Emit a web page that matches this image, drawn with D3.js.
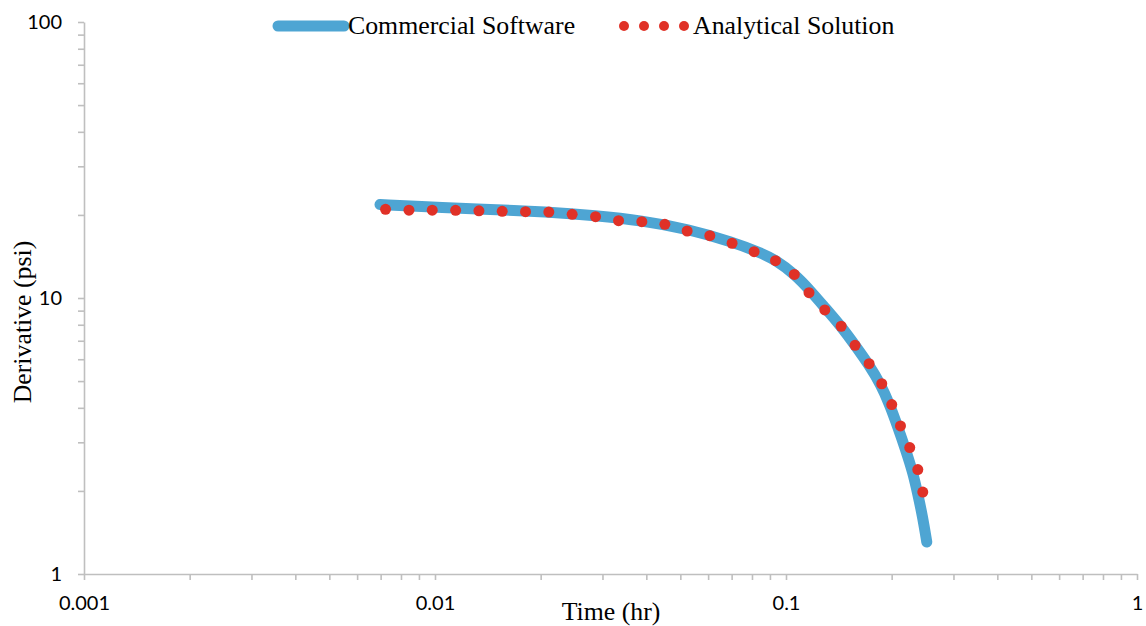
<!DOCTYPE html>
<html>
<head>
<meta charset="utf-8">
<script src="https://cdn.jsdelivr.net/npm/d3@7"></script>
<style>
  body { margin: 0; background: #fff; }
  svg { display: block; }
  .axis path, .axis line { stroke: #bfbfbf; stroke-width: 1.6px; }
  .axis text { font-family: Lato, "Open Sans", sans-serif; font-size: 20px; fill: #000; }
  .title { font-family: "Liberation Serif", "Times New Roman", serif; font-size: 25.8px; fill: #000; }
</style>
</head>
<body>
<svg id="chart" width="1146" height="626"></svg>
<script>
// commercial software curve (time in hr, derivative in psi)
const softTime = [0.00697, 0.00986, 0.01343, 0.0211, 0.02854, 0.03884, 0.05252, 0.07053,
  0.08424, 0.09352, 0.106, 0.1169, 0.129, 0.1433, 0.157, 0.1721, 0.1862, 0.1975, 0.2082,
  0.2194, 0.2297, 0.2374, 0.2453, 0.2518];
const softDeriv = [21.82, 21.36, 21.01, 20.49, 19.9, 19.09, 17.78, 15.95,
  14.62, 13.73, 12.17, 10.69, 9.24, 7.92, 6.76, 5.74, 4.86, 4.10, 3.41,
  2.81, 2.34, 1.95, 1.6, 1.306];

// analytical solution points
const anaTime = [0.00723, 0.00843, 0.00982, 0.01145, 0.01334, 0.01554, 0.01811, 0.0211,
  0.02459, 0.02867, 0.03334, 0.03884, 0.04517, 0.05228, 0.06067, 0.07021, 0.08114,
  0.09335, 0.1056, 0.1163, 0.129, 0.1436, 0.1573, 0.1725, 0.1874, 0.2001, 0.2119,
  0.2252, 0.2374, 0.2453];
const anaDeriv = [20.96, 20.8, 20.8, 20.78, 20.7, 20.6, 20.54, 20.49,
  20.1, 19.7, 19.06, 18.9, 18.49, 17.49, 16.82, 15.79, 14.72,
  13.65, 12.17, 10.45, 9.05, 7.9, 6.74, 5.78, 4.89, 4.11, 3.44,
  2.87, 2.39, 1.98];

const xDomain = [0.001, 1];
const yDomain = [1, 100];
const seriesNames = ["Commercial Software", "Analytical Solution"];

const blue = "#4ea5d3";
const red = "#e03127";

const svg = d3.select("#chart");
const padL = 84, padR = 1137, padT = 22, padB = 574;

const x = d3.scaleLog().domain(xDomain).range([padL, padR]);
const y = d3.scaleLog().domain(yDomain).range([padB, padT]);

// every 1..9 multiple for ticks, only powers of ten labelled
const minorTicks = (dom) => {
  const out = [];
  for (let p = Math.log10(dom[0]); p < Math.log10(dom[1]); p++) {
    for (let m = 1; m < 10; m++) out.push(m * Math.pow(10, p));
  }
  out.push(dom[1]);
  return out;
};
const isPow = d => Math.abs(Math.log10(d) - Math.round(Math.log10(d))) < 1e-9;
const fmt = d => isPow(d) ? String(+d.toPrecision(1)) : "";

svg.append("g")
  .attr("class", "axis")
  .attr("transform", `translate(0,${padB})`)
  .call(d3.axisBottom(x).tickValues(minorTicks(xDomain)).tickFormat(fmt)
    .tickSizeInner(6).tickSizeOuter(0).tickPadding(16));

svg.append("g")
  .attr("class", "axis")
  .attr("transform", `translate(${padL},0)`)
  .call(d3.axisLeft(y).tickValues(minorTicks(yDomain)).tickFormat(fmt)
    .tickSizeInner(6).tickSizeOuter(0).tickPadding(16));

// curve
const line = d3.line()
  .x(i => x(softTime[i]))
  .y(i => y(softDeriv[i]))
  .curve(d3.curveBasis);

svg.append("path")
  .attr("d", line(d3.range(softTime.length)))
  .attr("fill", "none")
  .attr("stroke", blue)
  .attr("stroke-width", 11)
  .attr("stroke-linecap", "round")
  .attr("stroke-linejoin", "round");

svg.append("g").selectAll("circle")
  .data(d3.range(anaTime.length))
  .join("circle")
  .attr("cx", i => x(anaTime[i]))
  .attr("cy", i => y(anaDeriv[i]))
  .attr("r", 5.5)
  .attr("fill", red);

// legend
const lg = svg.append("g");
lg.append("line")
  .attr("x1", 278).attr("x2", 344).attr("y1", 26).attr("y2", 26)
  .attr("stroke", blue).attr("stroke-width", 11).attr("stroke-linecap", "round");
lg.append("text").attr("class", "title").attr("x", 348).attr("y", 34).text(seriesNames[0]);
lg.selectAll("circle").data([624, 644, 664, 684]).join("circle")
  .attr("cx", d => d).attr("cy", 26).attr("r", 5).attr("fill", red);
lg.append("text").attr("class", "title").attr("x", 693).attr("y", 34).text(seriesNames[1]);

// axis titles
svg.append("text").attr("class", "title")
  .attr("x", 611).attr("y", 620).attr("text-anchor", "middle")
  .text("Time (hr)");
svg.append("text").attr("class", "title")
  .attr("transform", "translate(31,322) rotate(-90)")
  .attr("text-anchor", "middle")
  .text("Derivative (psi)");
</script>
</body>
</html>
